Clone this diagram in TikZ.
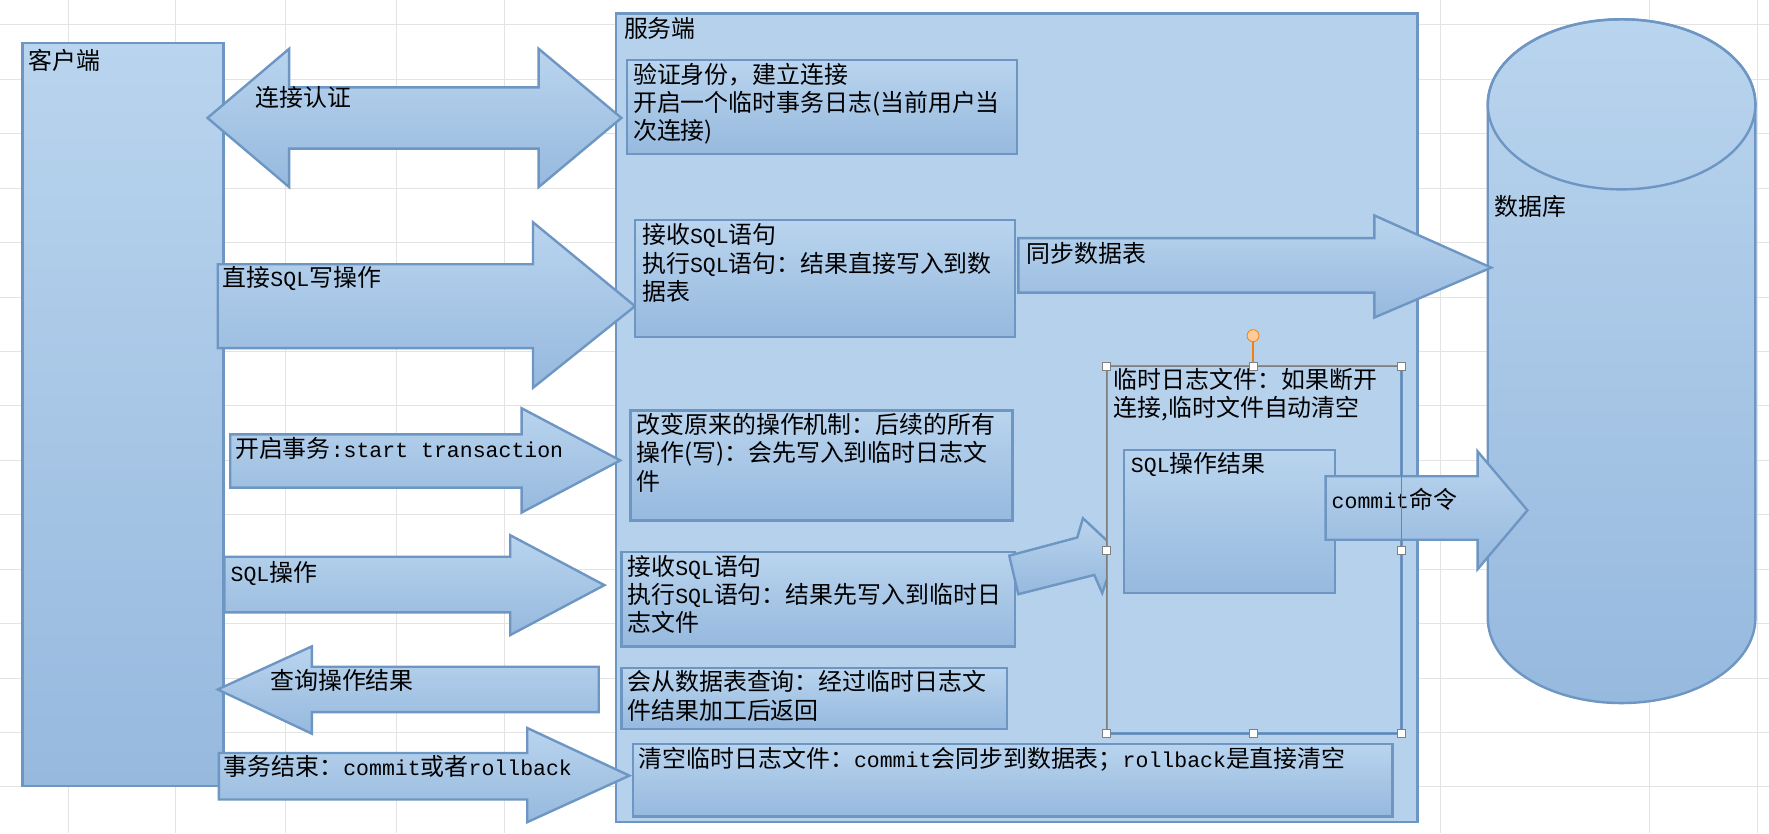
\documentclass[tikz,border=0pt]{standalone}
\usepackage{fontspec}
\setmainfont{Noto Sans CJK SC}
\newfontfamily\monof{Liberation Mono}[Scale=0.9]
\newcommand{\mo}[1]{{\monof #1}}
\definecolor{ctop}{RGB}{185,212,238}
\definecolor{cbot}{RGB}{150,185,222}
\definecolor{bord}{RGB}{110,150,195}
\tikzset{
  sh/.style={draw=bord,line width=1.2pt,top color=ctop,bottom color=cbot},
  flat/.style={draw=bord,line width=1.2pt,fill=ctop!90!cbot},
  lbl/.style={anchor=north west,inner sep=0pt,align=left,font=\fontsize{12}{14.2}\selectfont},
  hdl/.style={draw=gray,fill=white,line width=0.4pt,minimum size=4pt,inner sep=0pt}
}
\begin{document}
\begin{tikzpicture}[x=0.02cm,y=-0.02cm]
\useasboundingbox (0,0) rectangle (1560,735);
\fill[white] (0,0) rectangle (1560,735);
% grid
\foreach \yy in {22,70,118,166,214,262,310,358,406,454,502,550,598,646,694}
  \draw[gray!22,line width=0.5pt] (0,\yy) -- (1560,\yy);
\foreach \xx in {60,155,252,350,445,1270,1455,1550}
  \draw[gray!22,line width=0.5pt] (\xx,0) -- (\xx,735);
% client
\draw[sh] (20,38) rectangle (197,693);
\node[lbl] (cl) at (25,43) {客户端};
% server
\draw[flat] (543,12) rectangle (1250,725);
\node[lbl] (sv) at (550,15) {服务端};
% database
\draw[sh] (1312,92) -- (1312,545) arc[start angle=180,end angle=0,x radius=118,y radius=75] -- (1548,92) arc[start angle=0,end angle=-180,x radius=118,y radius=75];
\draw[draw=bord,line width=1.2pt] (1430,92) ellipse[x radius=118,y radius=75];
\node[lbl] (db) at (1318,172) {数据库};
% arrows
\draw[sh] (183,104) -- (255,43) -- (255,77) -- (475,77) -- (475,43) -- (548,104) -- (475,165) -- (475,131) -- (255,131) -- (255,165) -- cycle;
\node[lbl] (a1) at (225,76) {连接认证};
\draw[sh] (192,233) -- (470,233) -- (470,196) -- (560,270) -- (470,342) -- (470,307) -- (192,307) -- cycle;
\node[lbl] (a2) at (196,235) {直接\mo{SQL}写操作};
\draw[sh] (203,383) -- (460,383) -- (460,360) -- (547,406) -- (460,452) -- (460,430) -- (203,430) -- cycle;
\node[lbl] (a3) at (207,385) {开启事务\mo{:start transaction}};
\draw[sh] (198,491) -- (450,491) -- (450,472) -- (533,516) -- (450,560) -- (450,540) -- (198,540) -- cycle;
\node[lbl] (a4) at (203,495) {\mo{SQL}操作};
\draw[sh] (528,588) -- (275,588) -- (275,570) -- (192,608) -- (275,647) -- (275,628) -- (528,628) -- cycle;
\node[lbl] (a5) at (238,590) {查询操作结果};
\draw[sh] (193,664) -- (465,664) -- (465,642) -- (555,684) -- (465,725) -- (465,705) -- (193,705) -- cycle;
\node[lbl] (a6) at (197,666) {事务结束：\mo{commit}或者\mo{rollback}};
\draw[sh] (898,210) -- (1212,210) -- (1212,190) -- (1315,236) -- (1212,280) -- (1212,258) -- (898,258) -- cycle;
\node[lbl] (a7) at (905,213) {同步数据表};
% boxes
\draw[sh] (553,53) rectangle (897,136);
\node[lbl] (b1) at (558,55) {验证身份，建立连接\\开启一个临时事务日志(当前用户当\\次连接)};
\draw[sh] (560,194) rectangle (895,297);
\node[lbl] (b2) at (566,197) {接收\mo{SQL}语句\\执行\mo{SQL}语句：结果直接写入到数\\据表};
\draw[sh] (556,362) rectangle (893,459);
\node[lbl] (b3) at (561,364) {改变原来的操作机制：后续的所有\\操作(写)：会先写入到临时日志文\\件};
\draw[sh] (548,487) rectangle (895,570);
\node[lbl] (b4) at (553,489) {接收\mo{SQL}语句\\执行\mo{SQL}语句：结果先写入到临时日\\志文件};
\draw[sh] (548,589) rectangle (888,643);
\node[lbl] (b5) at (553,591) {会从数据表查询：经过临时日志文\\件结果加工后返回};
\draw[sh] (558,656) rectangle (1228,720);
\node[lbl] (b6) at (563,659) {清空临时日志文件：\mo{commit}会同步到数据表；\mo{rollback}是直接清空};
% diagonal arrow
\draw[sh] (890,490) -- (950,474) -- (955,457) -- (985,485) -- (972,523) -- (965,507) -- (898,524) -- cycle;
% log file box
\draw[flat] (976,323) rectangle (1236,647);
\draw[gray,line width=0.6pt] (976,323) rectangle (1236,647);
\node[lbl] (lg) at (982,324) {临时日志文件：如果断开\\连接,临时文件自动清空};
\draw[sh] (991,397) rectangle (1177,523);
\node[lbl] (sq) at (997,399) {\mo{SQL}操作结果};
% commit arrow
\draw[sh] (1169,420) -- (1303,420) -- (1303,398) -- (1347,450) -- (1303,502) -- (1303,476) -- (1169,476) -- cycle;
\node[lbl] (a8) at (1174,430) {\mo{commit}命令};
\draw[gray,line width=0.6pt] (1236,323) -- (1236,647);
% handles
\draw[orange!80!brown,line width=0.8pt] (1105,300) -- (1105,323);
\node[circle,draw=orange!80!brown,fill=orange!40,minimum size=6pt,inner sep=0pt] (rot) at (1105,296) {};
\foreach \hx/\hy in {976/323,1105/323,1236/323,976/485,1236/485,976/647,1105/647,1236/647}
  \node[hdl] at (\hx,\hy) {};
\end{tikzpicture}
\end{document}
